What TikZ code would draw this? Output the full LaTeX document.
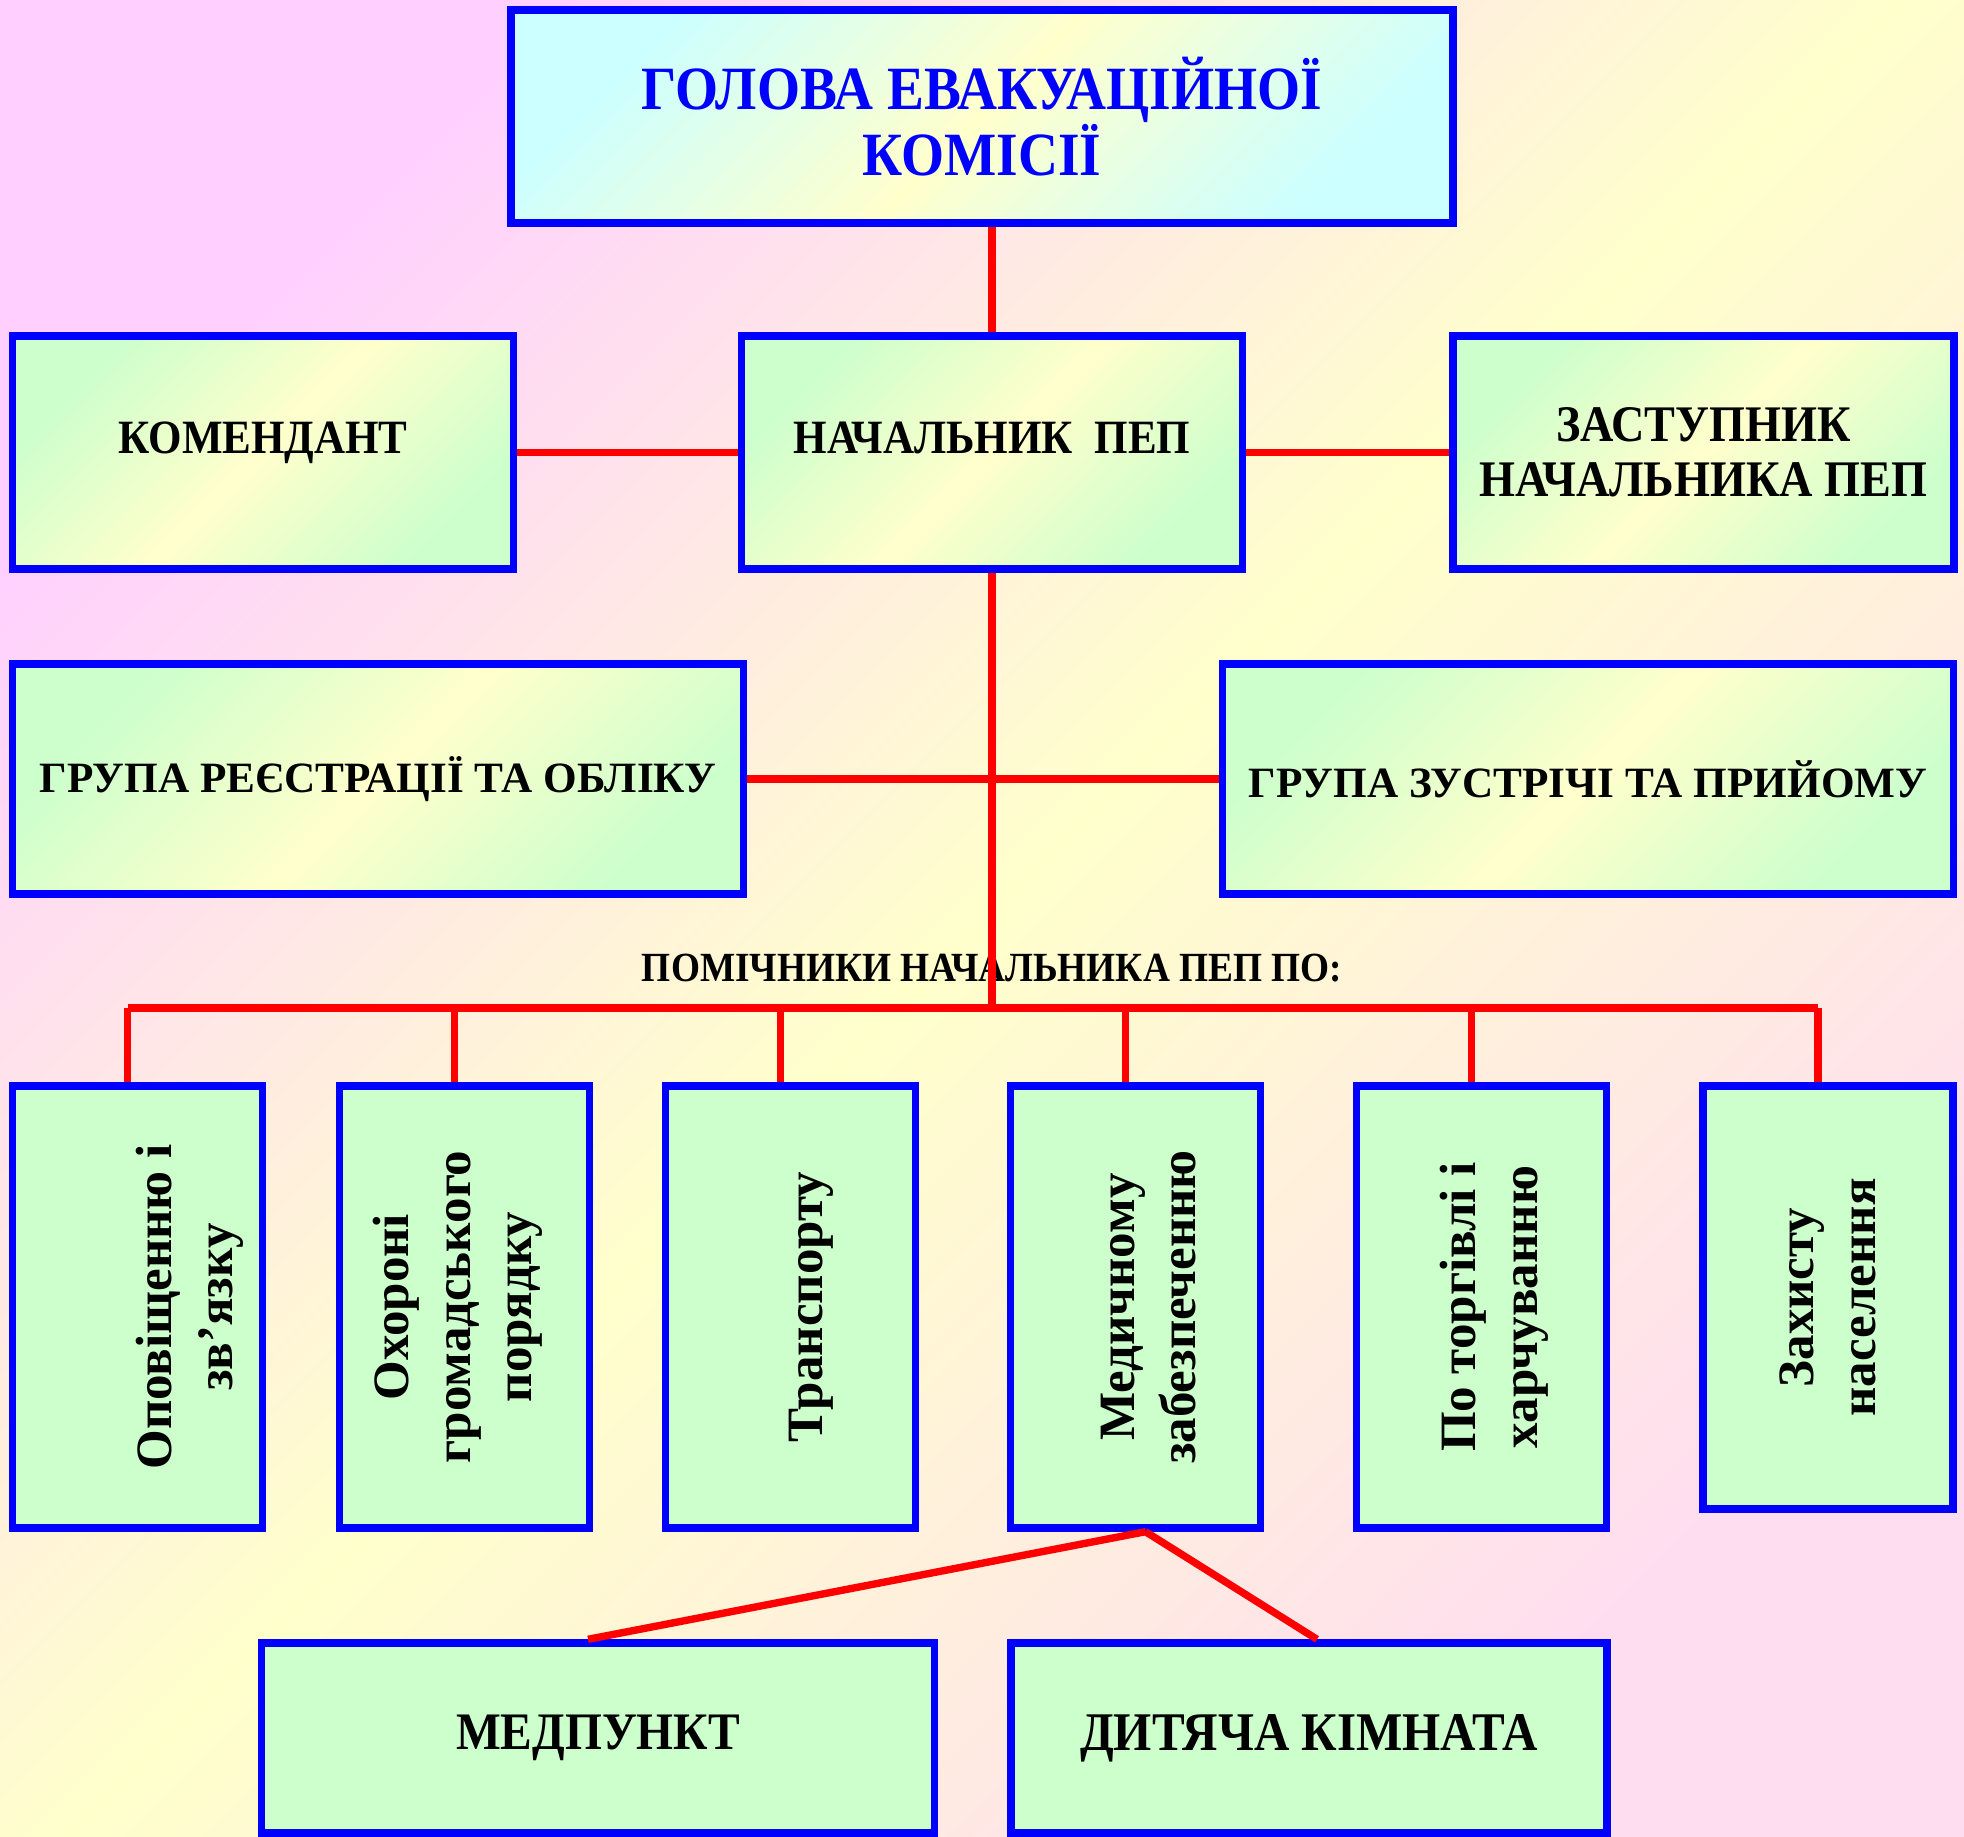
\documentclass[tikz,border=0pt]{standalone}
\usepackage{fontspec}
\setmainfont{Liberation Serif}
\newfontfamily\narrowserif[FakeStretch=0.9]{Liberation Serif}
\definecolor{boxblue}{RGB}{0,0,255}
\definecolor{linered}{RGB}{255,0,0}
\definecolor{palegreen}{RGB}{204,255,204}
\definecolor{paleyellow}{RGB}{255,255,204}
\definecolor{palecyan}{RGB}{204,255,255}
\definecolor{palepink}{RGB}{255,208,255}
\definecolor{palerose}{RGB}{255,221,240}

\begin{document}
\begin{tikzpicture}[
  box/.style={draw=boxblue, line width=2.1pt, rectangle, inner sep=2pt, align=center},
  greenbox/.style={box, left color=palegreen, right color=palegreen, middle color=paleyellow, shading angle=45},
  plainbox/.style={box, fill=palegreen},
  link/.style={draw=linered, line width=2.1pt},
  rowtext/.style={font=\narrowserif\fontsize{13.6}{15.6}\selectfont\bfseries},
  grouptext/.style={font=\fontsize{12.3}{14}\selectfont\bfseries},
  vtext/.style={rotate=90, align=center, font=\fontsize{14.5}{17.5}\selectfont\bfseries}
]
  % background
  \fill[left color=palepink, right color=palerose, middle color=paleyellow, shading angle=45] (0,0) rectangle (19.64,18.36);
  \useasboundingbox (0,0) rectangle (19.64,18.36);

  % top levels
  \node[box, left color=palecyan, right color=palecyan, middle color=paleyellow, shading angle=45,
        minimum width=9.42cm, minimum height=2.13cm, text=boxblue,
        font=\narrowserif\fontsize{17.5}{18.8}\selectfont\bfseries] (head) at (9.82,17.195) {ГОЛОВА ЕВАКУАЦІЙНОЇ\\КОМІСІЇ};
  \node[greenbox, rowtext, text depth=0.3cm, minimum width=5.01cm, minimum height=2.33cm] (commandant) at (2.63,13.835) {КОМЕНДАНТ};
  \node[greenbox, rowtext, text depth=0.3cm, minimum width=5.01cm, minimum height=2.33cm] (chief) at (9.92,13.835) {НАЧАЛЬНИК\ \ ПЕП};
  \node[greenbox, font=\narrowserif\fontsize{14.6}{15.6}\selectfont\bfseries, minimum width=5.01cm, minimum height=2.33cm] (deputy) at (17.035,13.835) {ЗАСТУПНИК\\НАЧАЛЬНИКА ПЕП};
  \node[greenbox, grouptext, minimum width=7.315cm, minimum height=2.30cm] (registration) at (3.78,10.57) {ГРУПА РЕЄСТРАЦІЇ ТА ОБЛІКУ};
  \node[greenbox, grouptext, minimum width=7.315cm, minimum height=2.30cm] (reception) at (15.88,10.57) {ГРУПА ЗУСТРІЧІ ТА ПРИЙОМУ};

  \node[font=\narrowserif\fontsize{11.8}{13}\selectfont\bfseries] (helpers) at (9.92,8.68) {ПОМІЧНИКИ НАЧАЛЬНИКА ПЕП ПО:};
  \coordinate (bus) at (9.92,8.28);

  % assistants
  \node[plainbox, minimum width=2.50cm, minimum height=4.42cm] (alert) at (1.378,5.29) {};
  \node[plainbox, minimum width=2.50cm, minimum height=4.42cm] (order) at (4.643,5.29) {};
  \node[plainbox, minimum width=2.50cm, minimum height=4.42cm] (transport) at (7.905,5.29) {};
  \node[plainbox, minimum width=2.50cm, minimum height=4.42cm] (medical) at (11.355,5.29) {};
  \node[plainbox, minimum width=2.50cm, minimum height=4.42cm] (trade) at (14.813,5.29) {};
  \node[plainbox, minimum width=2.50cm, minimum height=4.23cm] (defence) at (18.28,5.385) {};

  \node[vtext] (alerttext) at ([xshift=5.2mm]alert.center) {Оповіщенню і\\зв’язку};
  \node[vtext] (ordertext) at ([xshift=-0.6mm]order.center) {Охороні\\громадського\\порядку};
  \node[vtext] (transporttext) at ([xshift=2.1mm]transport.center) {Транспорту};
  \node[vtext] (medicaltext) at ([xshift=1.3mm]medical.center) {Медичному\\забезпеченню};
  \node[vtext] (tradetext) at ([xshift=1.3mm]trade.center) {По торгівлі і\\харчуванню};
  \node[vtext] (defencetext) at (defence.center) {Захисту\\населення};

  % bottom level
  \node[plainbox, font=\narrowserif\fontsize{15}{17}\selectfont\bfseries, minimum width=6.725cm, minimum height=1.90cm] (firstaid) at (5.98,0.98) {МЕДПУНКТ};
  \node[plainbox, font=\narrowserif\fontsize{15.5}{17}\selectfont\bfseries, minimum width=5.96cm, minimum height=1.90cm] (childroom) at (13.09,0.98) {ДИТЯЧА КІМНАТА};

  % connectors
  \draw[link] (head.south -| chief.north) -- (chief.north);
  \draw[link] (commandant.east) -- (chief.west);
  \draw[link] (chief.east) -- (deputy.west);
  \draw[link] (registration.east) -- (reception.west);
  \draw[link] (chief.south) -- (bus);
  \foreach \b in {alert,order,transport,medical,trade,defence}
    \coordinate (\b-drop) at ([xshift=-1mm]\b.north);
  \draw[link] (bus -| alert-drop) -- (bus -| defence-drop);
  \foreach \b in {alert,order,transport,medical,trade,defence}
    \draw[link] (bus -| \b-drop) -- (\b-drop);
  \coordinate (split) at ([xshift=1mm]medical.south);
  \draw[link] (split) -- ([xshift=-1mm]firstaid.north);
  \draw[link] (split) -- ([xshift=0.8mm]childroom.north);
\end{tikzpicture}
\end{document}
